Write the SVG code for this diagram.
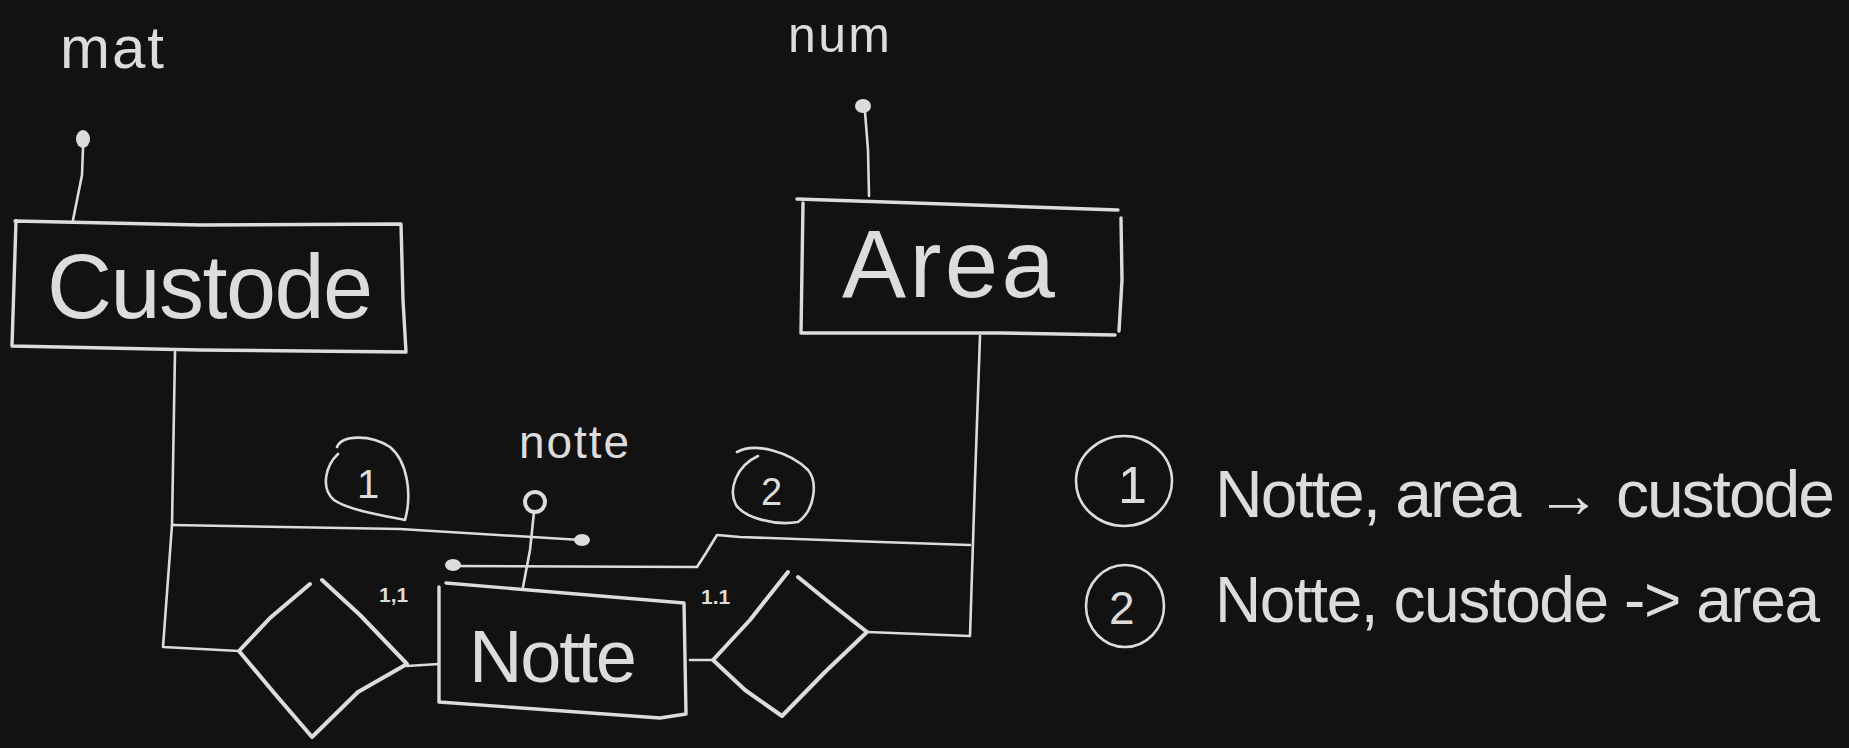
<svg xmlns="http://www.w3.org/2000/svg" width="1849" height="748" viewBox="0 0 1849 748">
<style>
.ln{fill:none;stroke:#dcdcdc;stroke-width:2.6;stroke-linecap:round;stroke-linejoin:round}
.bx{fill:none;stroke:#dcdcdc;stroke-width:3.4;stroke-linecap:round;stroke-linejoin:round}
.dm{fill:none;stroke:#dcdcdc;stroke-width:4;stroke-linecap:round;stroke-linejoin:round}
.dot{fill:#dcdcdc}
.t{fill:#dcdcdc;font-family:"Liberation Sans","DejaVu Sans",sans-serif}
.sm{fill:#dcdcdc;font-family:"Liberation Sans","DejaVu Sans",sans-serif;font-size:21px;font-weight:bold}
</style>
<rect width="1849" height="748" fill="#121212"/>
<g id="connectors">
<path class="ln" d="M175,352 L172,525 L163,647 L239,651"/>
<path class="ln" d="M172,525 L400,529 L581,540"/>
<ellipse class="dot" cx="582" cy="540" rx="8" ry="6"/>
<path class="ln" d="M407,666 L439,664"/>
<path class="ln" d="M980,336 L975,480 L970,636 L867,632"/>
<path class="ln" d="M970,545 L880,542 L740,537 L717,535 L706,553 L697,567 L452,566"/>
<ellipse class="dot" cx="453" cy="565" rx="8" ry="6"/>
<path class="ln" d="M690,660 L713,660"/>
</g>
<g id="attr-mat">
<text class="t" x="60" y="68" font-size="60" textLength="104">mat</text>
<ellipse class="dot" cx="83" cy="139" rx="7" ry="9"/>
<path class="ln" d="M83,148 L82,175 L73,220"/>
</g>
<g id="attr-num">
<text class="t" x="788" y="52" font-size="50" textLength="102">num</text>
<ellipse class="dot" cx="863" cy="106" rx="8" ry="7"/>
<path class="ln" d="M865,112 L868,150 L869,196"/>
</g>
<g id="attr-notte">
<text class="t" x="519" y="458" font-size="46" textLength="110">notte</text>
<circle cx="535" cy="502" r="10" fill="none" stroke="#dcdcdc" stroke-width="4"/>
<path class="ln" d="M534,512 L530,550 L523,587"/>
</g>
<g id="custode">
<path class="bx" d="M15,221 L200,225 L401,224 L403,300 L406,352 L200,350 L12,346 L16,221"/>
<text class="t" x="47" y="318" font-size="90" textLength="326">Custode</text>
</g>
<g id="area">
<path class="bx" d="M797,199 L1118,210"/>
<path class="bx" d="M803,203 L801,333 L1000,333 L1115,335"/>
<path class="bx" d="M1121,218 L1122,280 L1119,331"/>
<text class="t" x="842" y="297" font-size="96" textLength="213">Area</text>
</g>
<g id="notte">
<path class="bx" d="M446,583 L684,603 L686,714 L660,718 L439,702 L439,587"/>
<text class="t" x="469" y="682" font-size="74" textLength="168">Notte</text>
</g>
<g id="rel-1">
<path class="dm" d="M310,584 L270,618 L239,651 L275,694 L312,737 L358,692 L407,664 L360,615 L322,580"/>
<text class="sm" x="379" y="602">1,1</text>
</g>
<g id="rel-2">
<path class="dm" d="M788,572 L750,620 L713,660 L745,690 L782,716 L825,672 L867,632 L830,603 L798,577"/>
<text class="sm" x="701" y="604">1.1</text>
</g>
<g id="label-1">
<path class="ln" d="M337,447 C342,435 370,434 390,447 C408,462 412,495 405,520 C385,516 348,510 334,500 C320,488 326,465 338,454"/>
<text class="t" x="357" y="498" font-size="40">1</text>
</g>
<g id="label-2">
<path class="ln" d="M737,452 C755,442 790,452 808,470 C818,482 815,510 798,522 C775,526 745,518 736,505 C728,490 736,466 758,456"/>
<text class="t" x="761" y="505" font-size="38">2</text>
</g>
<g id="legend-1">
<ellipse class="ln" cx="1124" cy="481" rx="48" ry="45"/>
<text class="t" x="1118" y="503" font-size="52">1</text>
<text class="t" x="1215" y="517" font-size="66" textLength="620">Notte, area → custode</text>
</g>
<g id="legend-2">
<ellipse class="ln" cx="1125" cy="606" rx="39" ry="41"/>
<text class="t" x="1109" y="624" font-size="46">2</text>
<text class="t" x="1215" y="622" font-size="64" textLength="605">Notte, custode -&gt; area</text>
</g>
</svg>
